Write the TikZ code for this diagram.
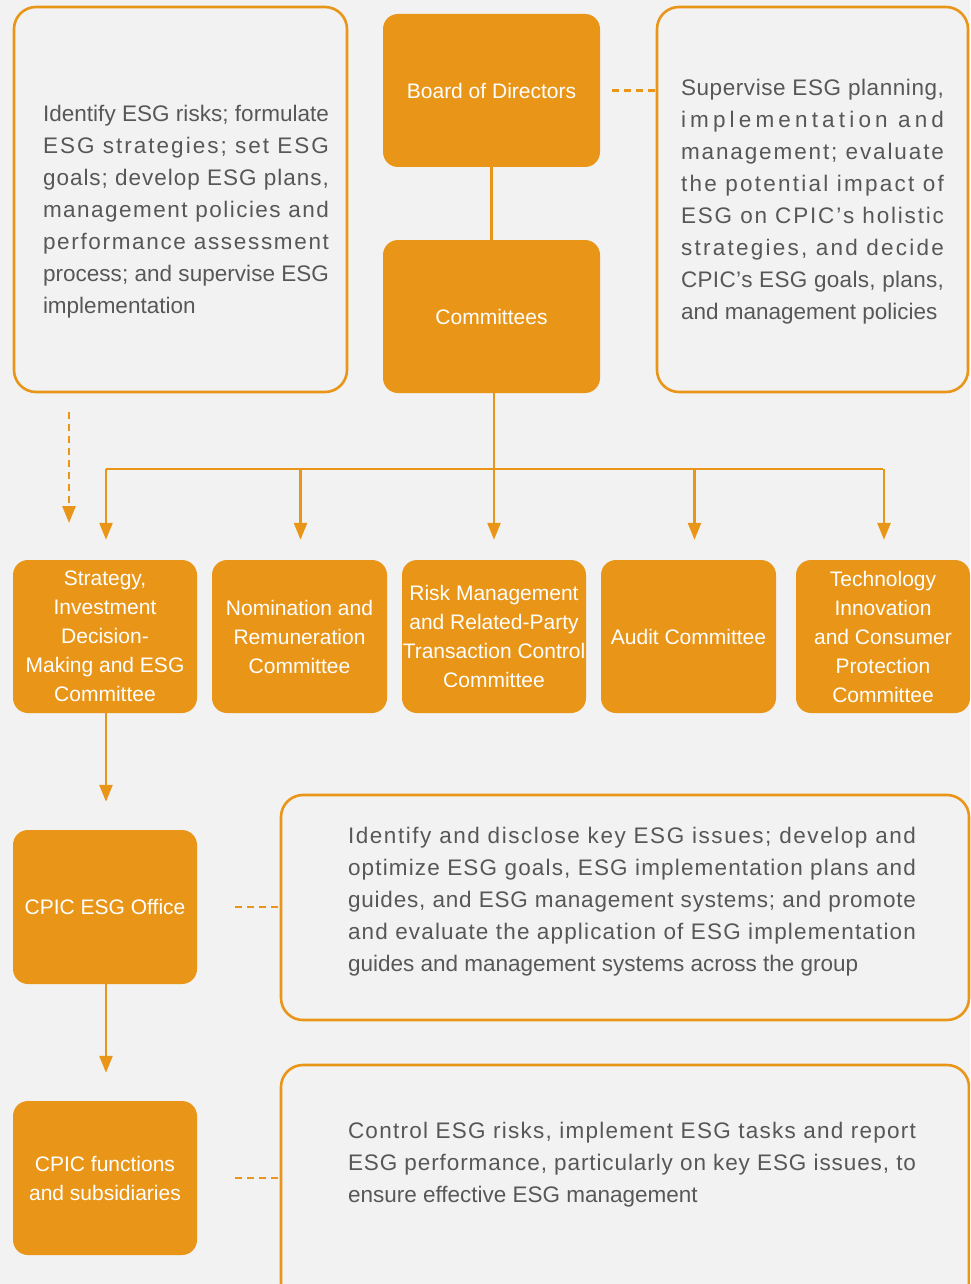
\documentclass[tikz,border=0pt]{standalone}
\usepackage{fontspec}
\setmainfont{Liberation Sans}
\usetikzlibrary{arrows.meta,calc}
\definecolor{orng}{HTML}{E99618}
\definecolor{bgc}{HTML}{F2F2F2}
\definecolor{txtg}{HTML}{575757}
\XeTeXinterchartoks 0 0 = {\hskip 0pt plus 1fil\relax}
\ExplSyntaxOn
\cs_new_protected:Npn \jlspread #1
  {
    \tl_set:Nn \l_tmpa_tl {#1}
    \tl_replace_all:Nnn \l_tmpa_tl { ~ } { ~ \hskip 0pt plus 1fil \scan_stop: }
    \tl_use:N \l_tmpa_tl
  }
\ExplSyntaxOff
\newcommand{\JL}[2]{\makebox[#1][s]{\XeTeXinterchartokenstate=1 \jlspread{#2}}\\}
\begin{document}
\begin{tikzpicture}[x=1pt,y=-1pt,
  obox/.style={draw=orng, line width=2.6pt, rounded corners=22pt, fill=bgc, inner sep=0pt},
  fbox/.style={fill=orng, rounded corners=15pt, text=white, align=center, inner sep=0pt,
    font=\fontsize{21}{29}\selectfont},
  gtext/.style={text=txtg, align=left, inner sep=0pt, font=\fontsize{22.5}{32}\selectfont},
  conn/.style={draw=orng, line width=2.6pt},
  arr/.style={conn, -{Triangle[width=13pt,length=17pt]}},
  dsh/.style={conn, dash pattern=on 7pt off 5pt},
]
\useasboundingbox[fill=bgc] (0,0) rectangle (970,1284);

% outline boxes
\node[obox, minimum width=333pt, minimum height=385pt] (lbox) at (180.5,199.5) {};
\node[obox, minimum width=311pt, minimum height=385pt] (rbox) at (812.5,199.5) {};
\node[obox, minimum width=688pt, minimum height=225pt] (mbox) at (625,907.5) {};
\begin{scope}
\clip (0,0) rectangle (970,1284);
\node[obox, minimum width=688pt, minimum height=240pt] (nbox) at (625,1185) {};
\end{scope}

% filled boxes
\node[fbox, minimum width=217pt, minimum height=153pt] (board) at (491.5,90.5) {Board of Directors};
\node[fbox, minimum width=217pt, minimum height=153pt] (comm) at (491.5,316.5) {Committees};

\node[fbox, minimum width=184pt, minimum height=153pt] (r1) at (105,636.5) {Strategy,\\Investment\\Decision-\\Making and ESG\\Committee};
\node[fbox, minimum width=175pt, minimum height=153pt] (r2) at (299.5,636.5) {Nomination and\\Remuneration\\Committee};
\node[fbox, minimum width=184pt, minimum height=153pt] (r3) at (494,636.5) {Risk Management\\and Related-Party\\Transaction Control\\Committee};
\node[fbox, minimum width=175pt, minimum height=153pt] (r4) at (688.5,636.5) {Audit Committee};
\node[fbox, minimum width=174pt, minimum height=153pt] (r5) at (883,636.5) {Technology\\Innovation\\and Consumer\\Protection\\Committee};

\node[fbox, minimum width=184pt, minimum height=154pt] (office) at (105,907) {CPIC ESG Office};
\node[fbox, minimum width=184pt, minimum height=154pt] (func) at (105,1178) {CPIC functions\\and subsidiaries};

% gray texts
\node[gtext] (ltext) at (186,211.5) {%
\JL{286pt}{Identify ESG risks; formulate}%
\JL{286pt}{ESG strategies; set ESG}%
\JL{286pt}{goals; develop ESG plans,}%
\JL{286pt}{management policies and}%
\JL{286pt}{performance assessment}%
\JL{286pt}{process; and supervise ESG}%
implementation};

\node[gtext] (rtext) at (812.5,201.5) {%
\JL{263pt}{Supervise ESG planning,}%
\JL{263pt}{implementation and}%
\JL{263pt}{management; evaluate}%
\JL{263pt}{the potential impact of}%
\JL{263pt}{ESG on CPIC’s holistic}%
\JL{263pt}{strategies, and decide}%
\JL{263pt}{CPIC’s ESG goals, plans,}%
and management policies};

\node[gtext] (mtext) at (632,901.5) {%
\JL{568pt}{Identify and disclose key ESG issues; develop and}%
\JL{568pt}{optimize ESG goals, ESG implementation plans and}%
\JL{568pt}{guides, and ESG management systems; and promote}%
\JL{568pt}{and evaluate the application of ESG implementation}%
guides and management systems across the group};

\node[gtext] (ntext) at (632,1164.5) {%
\JL{568pt}{Control ESG risks, implement ESG tasks and report}%
\JL{568pt}{ESG performance, particularly on key ESG issues, to}%
ensure effective ESG management};

% connectors
\draw[conn] (board.south) -- (comm.north);
\draw[dsh, shorten <=12pt] (board.east) -- (board.east -| rbox.west);

\coordinate (bus) at (0,469);
\draw[conn] (comm.south -| r3.north) -- (r3.north |- bus);
\draw[conn] ([xshift=1pt]r1.north |- bus) -- (r5.north |- bus);
\draw[arr, shorten >=20pt] ([xshift=1pt]r1.north |- bus) -- ([xshift=1pt]r1.north);
\draw[arr, shorten >=20pt] ([xshift=1pt]r2.north |- bus) -- ([xshift=1pt]r2.north);
\draw[arr, shorten >=20pt] (r3.north |- bus) -- (r3.north);
\draw[arr, shorten >=20pt] ([xshift=6pt]r4.north |- bus) -- ([xshift=6pt]r4.north);
\draw[arr, shorten >=20pt] ([xshift=1pt]r5.north |- bus) -- ([xshift=1pt]r5.north);

\coordinate (dA) at (69,412);
\coordinate (dB) at (69,523);
\draw[dsh, -{Triangle[width=13pt,length=17pt]}] (dA) -- (dB);

\draw[arr, shorten >=28pt] ([xshift=1pt]r1.south) -- ([xshift=1pt]office.north);
\draw[arr, shorten >=28pt] ([xshift=1pt]office.south) -- ([xshift=1pt]func.north);

\draw[dsh, shorten <=38pt] (office.east) -- (office.east -| mbox.west);
\draw[dsh, shorten <=38pt] (func.east) -- (func.east -| nbox.west);
\end{tikzpicture}
\end{document}
